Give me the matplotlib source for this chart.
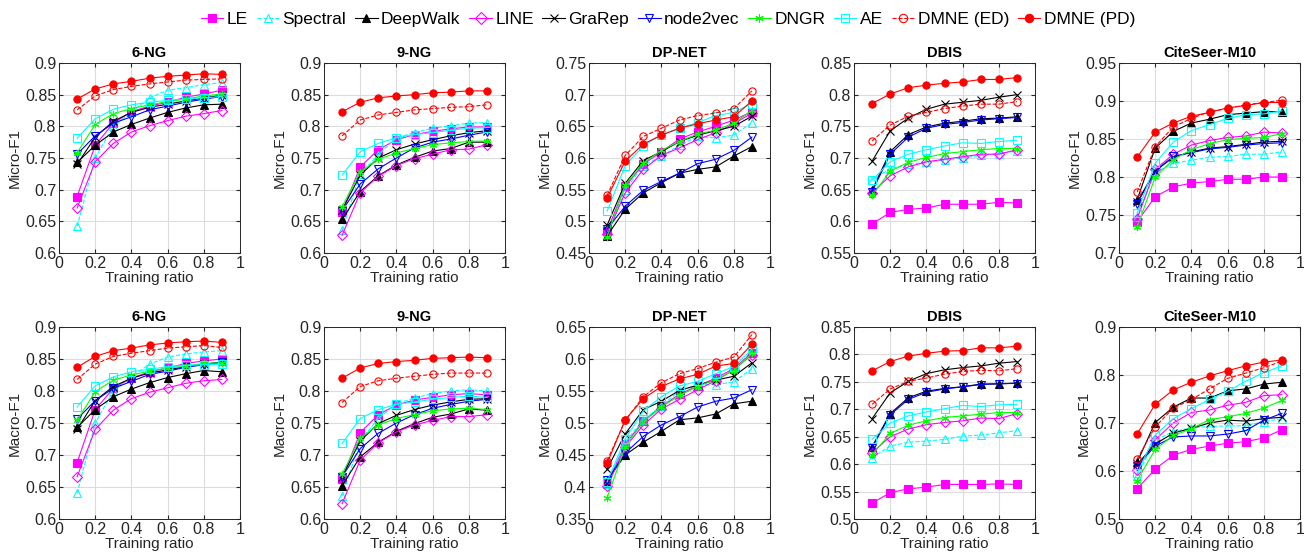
import matplotlib.pyplot as plt
from matplotlib.lines import Line2D
from matplotlib.ticker import FuncFormatter, MultipleLocator

plt.rcParams["font.family"] = ["Liberation Sans", "DejaVu Sans"]

RATIOS = [0.1, 0.2, 0.3, 0.4, 0.5, 0.6, 0.7, 0.8, 0.9]

METHODS = ["LE", "Spectral", "DeepWalk", "LINE", "GraRep",
           "node2vec", "DNGR", "AE", "DMNE (ED)", "DMNE (PD)"]

# (color, linestyle, marker, filled)
STYLES = [
    ("#ff00ff", "-", "s", True),
    ("#00ffff", "--", "^", False),
    ("#000000", "-", "^", True),
    ("#ff00ff", "-", "D", False),
    ("#000000", "-", "x", True),
    ("#0000ff", "-", "v", False),
    ("#00ff00", "-", (6, 2, 0), True),
    ("#00ffff", "-", "s", False),
    ("#ff0000", "--", "o", False),
    ("#ff0000", "-", "o", True),
]

# rows follow METHODS order
micro_6ng = [
    [0.689, 0.770, 0.805, 0.823, 0.832, 0.838, 0.846, 0.851, 0.857],
    [0.642, 0.750, 0.800, 0.822, 0.845, 0.857, 0.861, 0.866, 0.869],
    [0.743, 0.770, 0.791, 0.803, 0.813, 0.822, 0.829, 0.834, 0.835],
    [0.671, 0.744, 0.773, 0.791, 0.801, 0.809, 0.816, 0.820, 0.825],
    [0.740, 0.783, 0.808, 0.822, 0.830, 0.835, 0.840, 0.845, 0.849],
    [0.756, 0.785, 0.805, 0.815, 0.826, 0.832, 0.838, 0.843, 0.847],
    [0.758, 0.803, 0.820, 0.828, 0.834, 0.839, 0.843, 0.848, 0.851],
    [0.781, 0.812, 0.827, 0.834, 0.838, 0.841, 0.843, 0.845, 0.847],
    [0.826, 0.848, 0.858, 0.863, 0.867, 0.870, 0.873, 0.874, 0.875],
    [0.843, 0.859, 0.867, 0.871, 0.876, 0.879, 0.881, 0.883, 0.882],
]
micro_9ng = [
    [0.665, 0.736, 0.763, 0.779, 0.787, 0.792, 0.796, 0.799, 0.799],
    [0.636, 0.725, 0.755, 0.782, 0.790, 0.797, 0.801, 0.805, 0.806],
    [0.653, 0.697, 0.722, 0.739, 0.751, 0.761, 0.765, 0.775, 0.775],
    [0.628, 0.695, 0.721, 0.738, 0.749, 0.756, 0.763, 0.764, 0.771],
    [0.668, 0.723, 0.750, 0.763, 0.772, 0.779, 0.785, 0.790, 0.793],
    [0.667, 0.709, 0.733, 0.750, 0.766, 0.775, 0.780, 0.786, 0.791],
    [0.673, 0.728, 0.748, 0.758, 0.765, 0.771, 0.774, 0.776, 0.777],
    [0.723, 0.760, 0.773, 0.782, 0.787, 0.790, 0.794, 0.797, 0.798],
    [0.785, 0.810, 0.818, 0.822, 0.826, 0.828, 0.830, 0.831, 0.834],
    [0.823, 0.838, 0.845, 0.848, 0.850, 0.853, 0.854, 0.856, 0.856],
]
micro_dpnet = [
    [0.485, 0.555, 0.590, 0.610, 0.630, 0.641, 0.650, 0.660, 0.673],
    [0.478, 0.550, 0.588, 0.603, 0.620, 0.634, 0.632, 0.636, 0.656],
    [0.477, 0.519, 0.545, 0.561, 0.576, 0.582, 0.586, 0.603, 0.618],
    [0.480, 0.545, 0.582, 0.604, 0.616, 0.629, 0.640, 0.654, 0.671],
    [0.494, 0.560, 0.596, 0.610, 0.626, 0.636, 0.643, 0.650, 0.666],
    [0.488, 0.524, 0.549, 0.563, 0.576, 0.591, 0.598, 0.612, 0.633],
    [0.476, 0.558, 0.592, 0.612, 0.626, 0.638, 0.644, 0.655, 0.675],
    [0.516, 0.588, 0.619, 0.637, 0.647, 0.656, 0.667, 0.672, 0.686],
    [0.541, 0.604, 0.634, 0.647, 0.660, 0.667, 0.671, 0.678, 0.706],
    [0.537, 0.595, 0.622, 0.636, 0.647, 0.654, 0.660, 0.665, 0.690],
]
micro_dbis = [
    [0.596, 0.614, 0.619, 0.621, 0.627, 0.627, 0.627, 0.630, 0.629],
    [0.666, 0.683, 0.690, 0.693, 0.697, 0.700, 0.704, 0.707, 0.711],
    [0.649, 0.710, 0.737, 0.749, 0.755, 0.758, 0.762, 0.763, 0.765],
    [0.645, 0.672, 0.686, 0.694, 0.698, 0.702, 0.706, 0.706, 0.713],
    [0.695, 0.743, 0.763, 0.777, 0.785, 0.788, 0.791, 0.796, 0.800],
    [0.647, 0.706, 0.733, 0.747, 0.753, 0.756, 0.760, 0.762, 0.764],
    [0.641, 0.679, 0.693, 0.701, 0.707, 0.710, 0.713, 0.715, 0.715],
    [0.665, 0.694, 0.706, 0.713, 0.719, 0.724, 0.723, 0.726, 0.728],
    [0.727, 0.752, 0.766, 0.772, 0.778, 0.782, 0.785, 0.785, 0.789],
    [0.786, 0.801, 0.811, 0.815, 0.818, 0.820, 0.824, 0.824, 0.827],
]
micro_citeseer = [
    [0.741, 0.774, 0.787, 0.792, 0.794, 0.797, 0.797, 0.800, 0.800],
    [0.748, 0.806, 0.818, 0.822, 0.826, 0.827, 0.830, 0.830, 0.833],
    [0.770, 0.838, 0.860, 0.871, 0.876, 0.882, 0.884, 0.886, 0.886],
    [0.745, 0.810, 0.830, 0.842, 0.848, 0.852, 0.854, 0.859, 0.858],
    [0.767, 0.808, 0.826, 0.833, 0.838, 0.840, 0.843, 0.846, 0.847],
    [0.765, 0.808, 0.827, 0.832, 0.837, 0.839, 0.842, 0.844, 0.845],
    [0.734, 0.800, 0.823, 0.836, 0.844, 0.849, 0.851, 0.852, 0.857],
    [0.752, 0.818, 0.846, 0.861, 0.869, 0.877, 0.882, 0.883, 0.887],
    [0.780, 0.840, 0.866, 0.877, 0.886, 0.890, 0.895, 0.898, 0.901],
    [0.826, 0.859, 0.871, 0.880, 0.885, 0.891, 0.894, 0.898, 0.898],
]

macro_6ng = [
    [0.688, 0.771, 0.804, 0.820, 0.830, 0.836, 0.843, 0.847, 0.850],
    [0.640, 0.750, 0.800, 0.822, 0.842, 0.853, 0.858, 0.861, 0.863],
    [0.743, 0.771, 0.791, 0.803, 0.813, 0.821, 0.827, 0.832, 0.830],
    [0.666, 0.740, 0.770, 0.788, 0.798, 0.805, 0.812, 0.816, 0.818],
    [0.740, 0.785, 0.807, 0.820, 0.828, 0.833, 0.838, 0.842, 0.845],
    [0.756, 0.785, 0.804, 0.815, 0.826, 0.831, 0.837, 0.841, 0.845],
    [0.754, 0.799, 0.817, 0.825, 0.831, 0.836, 0.839, 0.843, 0.844],
    [0.775, 0.808, 0.822, 0.830, 0.834, 0.838, 0.840, 0.841, 0.842],
    [0.818, 0.842, 0.854, 0.859, 0.863, 0.867, 0.869, 0.871, 0.868],
    [0.837, 0.854, 0.863, 0.867, 0.872, 0.875, 0.877, 0.878, 0.876],
]
macro_9ng = [
    [0.663, 0.735, 0.763, 0.778, 0.786, 0.790, 0.794, 0.796, 0.794],
    [0.636, 0.722, 0.757, 0.780, 0.789, 0.796, 0.800, 0.802, 0.800],
    [0.652, 0.697, 0.720, 0.737, 0.749, 0.759, 0.764, 0.772, 0.770],
    [0.624, 0.692, 0.719, 0.736, 0.747, 0.754, 0.760, 0.760, 0.763],
    [0.666, 0.722, 0.749, 0.762, 0.771, 0.778, 0.783, 0.787, 0.788],
    [0.666, 0.710, 0.734, 0.750, 0.763, 0.773, 0.779, 0.784, 0.787],
    [0.670, 0.726, 0.747, 0.757, 0.763, 0.769, 0.772, 0.773, 0.771],
    [0.718, 0.757, 0.771, 0.779, 0.783, 0.787, 0.790, 0.792, 0.790],
    [0.782, 0.807, 0.816, 0.820, 0.823, 0.826, 0.828, 0.828, 0.828],
    [0.820, 0.836, 0.843, 0.846, 0.848, 0.851, 0.852, 0.853, 0.852],
]
macro_dpnet = [
    [0.405, 0.467, 0.503, 0.526, 0.545, 0.558, 0.570, 0.585, 0.610],
    [0.405, 0.470, 0.505, 0.527, 0.550, 0.560, 0.560, 0.564, 0.585],
    [0.410, 0.450, 0.470, 0.487, 0.505, 0.508, 0.514, 0.530, 0.534],
    [0.401, 0.462, 0.497, 0.522, 0.537, 0.552, 0.566, 0.583, 0.607],
    [0.428, 0.483, 0.521, 0.534, 0.551, 0.559, 0.567, 0.573, 0.594],
    [0.411, 0.453, 0.479, 0.497, 0.510, 0.525, 0.534, 0.539, 0.552],
    [0.383, 0.463, 0.502, 0.525, 0.543, 0.557, 0.568, 0.582, 0.609],
    [0.408, 0.475, 0.519, 0.541, 0.558, 0.565, 0.577, 0.588, 0.615],
    [0.441, 0.504, 0.541, 0.563, 0.577, 0.585, 0.595, 0.603, 0.638],
    [0.437, 0.505, 0.538, 0.557, 0.569, 0.576, 0.589, 0.593, 0.623],
]
macro_dbis = [
    [0.529, 0.548, 0.555, 0.558, 0.563, 0.563, 0.563, 0.564, 0.563],
    [0.612, 0.633, 0.640, 0.642, 0.645, 0.651, 0.653, 0.657, 0.661],
    [0.632, 0.692, 0.721, 0.733, 0.738, 0.741, 0.746, 0.746, 0.748],
    [0.621, 0.650, 0.664, 0.672, 0.676, 0.679, 0.684, 0.683, 0.692],
    [0.683, 0.730, 0.751, 0.765, 0.772, 0.776, 0.779, 0.784, 0.787],
    [0.630, 0.690, 0.718, 0.731, 0.737, 0.741, 0.745, 0.747, 0.747],
    [0.617, 0.656, 0.671, 0.679, 0.685, 0.688, 0.691, 0.694, 0.694],
    [0.645, 0.675, 0.688, 0.695, 0.701, 0.707, 0.705, 0.708, 0.709],
    [0.709, 0.737, 0.751, 0.757, 0.764, 0.769, 0.771, 0.770, 0.774],
    [0.770, 0.787, 0.797, 0.802, 0.806, 0.807, 0.812, 0.812, 0.815],
]
macro_citeseer = [
    [0.563, 0.604, 0.633, 0.645, 0.652, 0.658, 0.661, 0.669, 0.686],
    [0.590, 0.664, 0.682, 0.690, 0.693, 0.694, 0.694, 0.703, 0.709],
    [0.618, 0.701, 0.733, 0.752, 0.752, 0.767, 0.771, 0.781, 0.785],
    [0.602, 0.665, 0.700, 0.722, 0.727, 0.737, 0.743, 0.757, 0.759],
    [0.614, 0.656, 0.679, 0.689, 0.700, 0.706, 0.704, 0.709, 0.712],
    [0.611, 0.652, 0.671, 0.673, 0.673, 0.677, 0.684, 0.706, 0.720],
    [0.580, 0.645, 0.674, 0.688, 0.707, 0.713, 0.720, 0.731, 0.747],
    [0.595, 0.675, 0.709, 0.730, 0.749, 0.766, 0.787, 0.805, 0.819],
    [0.625, 0.692, 0.731, 0.749, 0.771, 0.793, 0.804, 0.815, 0.829],
    [0.677, 0.739, 0.769, 0.785, 0.798, 0.809, 0.819, 0.827, 0.831],
]

DATASETS = ["6-NG", "9-NG", "DP-NET", "DBIS", "CiteSeer-M10"]
MICRO = [micro_6ng, micro_9ng, micro_dpnet, micro_dbis, micro_citeseer]
MACRO = [macro_6ng, macro_9ng, macro_dpnet, macro_dbis, macro_citeseer]
MICRO_YLIM = [(0.6, 0.9, 0.05), (0.6, 0.9, 0.05), (0.45, 0.75, 0.05),
              (0.55, 0.85, 0.05), (0.7, 0.95, 0.05)]
MACRO_YLIM = [(0.6, 0.9, 0.05), (0.6, 0.9, 0.05), (0.35, 0.65, 0.05),
              (0.5, 0.85, 0.05), (0.5, 0.9, 0.1)]

INK = "#262626"
GRID = "#dcdcdc"
W, H = 1304, 556
LEFTS = [59, 324, 589, 854, 1119]
AX_W = 181
ROWS = [(63, 253, "Micro-F1", MICRO, MICRO_YLIM),
        (327, 519, "Macro-F1", MACRO, MACRO_YLIM)]

fmt = FuncFormatter(lambda v, _: f"{v:g}")


def draw_panel(ax, series, ylim, title, ylabel):
    for vals, (color, ls, mk, filled) in zip(series, STYLES):
        ax.plot(RATIOS, vals, color=color, ls=ls, lw=0.8, marker=mk, ms=5.2,
                mfc=color if filled else "none", mec=color, mew=0.8)
    lo, hi, step = ylim
    ax.set_xlim(0, 1)
    ax.set_ylim(lo, hi)
    ax.xaxis.set_major_locator(MultipleLocator(0.2))
    ax.yaxis.set_major_locator(MultipleLocator(step))
    ax.xaxis.set_major_formatter(fmt)
    ax.yaxis.set_major_formatter(fmt)
    ax.grid(True, color=GRID, lw=0.8)
    ax.set_axisbelow(True)
    ax.tick_params(direction="in", length=3, labelsize=11.5, colors=INK,
                   top=True, right=True, pad=2)
    for sp in ax.spines.values():
        sp.set_color(INK)
        sp.set_linewidth(0.7)
    ax.set_title(title, fontsize=10.5, fontweight="bold", color="black", pad=4)
    ax.set_xlabel("Training ratio", fontsize=11, color=INK, labelpad=0.5)
    ax.set_ylabel(ylabel, fontsize=11, color=INK, labelpad=2)


fig = plt.figure(figsize=(W / 100, H / 100), dpi=100)
for top, bottom, ylabel, data, ylims in ROWS:
    for left, name, series, ylim in zip(LEFTS, DATASETS, data, ylims):
        ax = fig.add_axes([left / W, 1 - bottom / H, AX_W / W, (bottom - top) / H])
        draw_panel(ax, series, ylim, name, ylabel)

handles = [
    Line2D([], [], color=c, ls=ls, lw=0.8, marker=mk, ms=6,
           mfc=c if filled else "none", mec=c, mew=0.8)
    for c, ls, mk, filled in STYLES
]
fig.legend(handles, METHODS, loc="center", ncol=len(METHODS), frameon=False,
           fontsize=12.5, bbox_to_anchor=(668 / W, 1 - 19 / H),
           handlelength=1.3, handletextpad=0.2, columnspacing=0.5)

fig.savefig("out.png", dpi=100, facecolor="white")
